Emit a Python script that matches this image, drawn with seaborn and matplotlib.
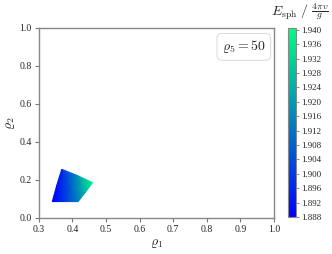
import numpy as np
import seaborn as sns
import matplotlib
matplotlib.use("Agg")
import matplotlib.pyplot as plt

# grid of the sphaleron scan (rows: bottom -> top, cols: left -> right)
rho1 = [[0.340, 0.378, 0.417],
        [0.353, 0.397, 0.439],
        [0.368, 0.415, 0.460]]
rho2 = [[0.086, 0.086, 0.086],
        [0.170, 0.152, 0.136],
        [0.256, 0.223, 0.186]]
esph = [[1.888, 1.900, 1.914],
        [1.891, 1.908, 1.926],
        [1.896, 1.918, 1.940]]
cbar_ticks = [1.888, 1.892, 1.896, 1.900, 1.904, 1.908, 1.912, 1.916,
              1.920, 1.924, 1.928, 1.932, 1.936, 1.940]

sns.set_style("ticks")
plt.rcParams['font.family'] = ['Liberation Serif', 'DejaVu Serif']
plt.rcParams['mathtext.fontset'] = 'cm'

fig = plt.figure(figsize=(3.32, 2.54), dpi=100)
ax = fig.add_axes([0.117, 0.142, 0.708, 0.748])
cax = fig.add_axes([0.867, 0.146, 0.025, 0.744])

mesh = ax.pcolormesh(np.array(rho1), np.array(rho2), np.array(esph),
                     shading='gouraud', cmap='winter', vmin=1.888, vmax=1.9405)

ax.set_xlim(0.3, 1.0)
ax.set_ylim(0.0, 1.0)
ax.set_xticks(np.arange(0.3, 1.01, 0.1))
ax.set_yticks(np.arange(0.0, 1.01, 0.2))
ax.tick_params(labelsize=7, length=3, width=0.8, color='#777777', pad=2)
for s in ax.spines.values():
    s.set_color('#888888')
    s.set_linewidth(1.0)
ax.set_xlabel(r'$\varrho_1$', fontsize=10, labelpad=2)
ax.set_ylabel(r'$\varrho_2$', fontsize=10, labelpad=2)

ax.text(0.965, 0.945, r'$\varrho_5 = 50$', transform=ax.transAxes,
        ha='right', va='top', fontsize=10,
        bbox=dict(boxstyle='round,pad=0.35', fc='white', ec='#dddddd', lw=0.8))

cb = fig.colorbar(mesh, cax=cax, ticks=cbar_ticks)
cb.ax.set_yticklabels([f'{t:.3f}' for t in cbar_ticks])
cb.ax.tick_params(labelsize=6.5, length=2, width=0.6, color='#777777', pad=1.5)
cb.outline.set_edgecolor('#888888')
cb.outline.set_linewidth(0.8)
fig.text(0.905, 0.995, r'$E_{\rm sph}\ /\ \frac{4\pi v}{g}$', ha='center', va='top',
         fontsize=10)

fig.savefig('out.png', dpi=100)
